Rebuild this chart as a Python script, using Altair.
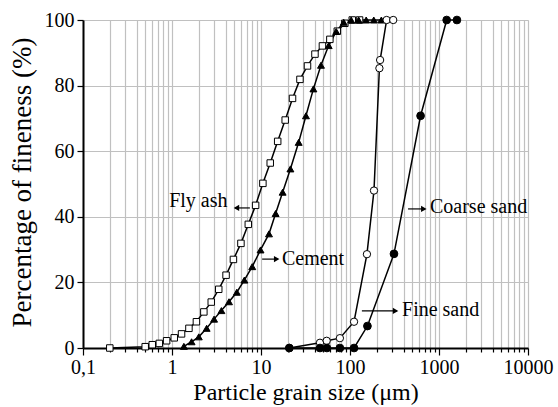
import altair as alt
import pandas as pd

# ---- data ----
fly_x = [0.2, 0.5, 0.6, 0.72, 0.87, 1.06, 1.28, 1.55, 1.88, 2.28, 2.76, 3.35, 4.05, 4.9, 5.95,
         7.2, 8.7, 10.5, 12.7, 15.4, 18.7, 22.6, 27.4, 33.3, 40.4, 49, 59.4, 72, 87.5, 106, 128]
fly_y = [0, 0.4, 1.0, 1.4, 2.2, 3.1, 4.3, 6.0, 8.0, 11.0, 14.0, 17.9, 22.2, 27.0, 31.9,
         37.7, 43.5, 50.2, 56.4, 63.0, 69.5, 76.1, 81.9, 86.0, 89.6, 92.1, 94.1, 96.6, 99.0, 100, 100]

cem_x = [1.36, 1.66, 2.0, 2.45, 2.97, 3.59, 4.37, 5.35, 6.5, 7.97, 9.88, 12.3, 14.6, 17.5, 21.4,
         26.5, 32, 38.8, 47.2, 57.6, 70, 85, 103, 125, 152, 185, 225]
cem_y = [0.5, 1.9, 3.4, 6.0, 8.8, 11.4, 14.1, 17.0, 20.7, 24.8, 29.9, 34.8, 41.0, 47.5, 54.6,
         62.7, 70.8, 79.0, 86.2, 92.2, 96.5, 99.3, 100, 100, 100, 100, 100]

fine_x = [20.8, 46, 54.7, 77, 111, 155, 186, 214, 218, 258, 306]
fine_y = [0, 1.6, 2.2, 3.0, 8.0, 28.6, 48.0, 85.3, 87.8, 100, 100]

coarse_x = [20.8, 46, 55, 77, 111, 157, 312, 621, 1220, 1590]
coarse_y = [0, 0, 0, 0, 0, 6.7, 28.7, 70.8, 100, 100]

series_names = ["Fly ash", "Cement", "Fine sand", "Coarse sand"]
series_shapes = ["square", "triangle-up", "circle", "circle"]
series_fills = ["white", "black", "white", "black"]
series_sizes = [42, 60, 55, 55]

# annotations
ann_text = ["Fly ash", "Cement", "Coarse sand", "Fine sand"]
ann_tx = [4.2, 17.2, 792, 384]
ann_ty = [43.0, 25.3, 41.1, 9.8]
ann_align = ["right", "left", "left", "left"]
arr_x1 = [5.1, 10.3, 449, 136]
arr_x2 = [7.5, 15.5, 697, 337]
arr_y = [42.7, 27.1, 42.4, 11.3]
arr_head = [5.3, 15.0, 675, 325]
arr_dir = ["triangle-left", "triangle-right", "triangle-right", "triangle-right"]

# ---- build tables ----
frames = []
for name, xs, ys in zip(series_names, [fly_x, cem_x, fine_x, coarse_x], [fly_y, cem_y, fine_y, coarse_y]):
    frames.append(pd.DataFrame({"x": xs, "y": ys, "series": name}))
data = pd.concat(frames, ignore_index=True)

ann = pd.DataFrame({"x": ann_tx, "y": ann_ty, "text": ann_text, "align": ann_align})
arr = pd.DataFrame({"x": arr_x1, "x2": arr_x2, "y": arr_y, "hx": arr_head, "dir": arr_dir})

FONT = "Times New Roman, Liberation Serif, serif"
x_ticks = [round(d * k, 6) for d in [0.1, 1, 10, 100, 1000] for k in range(1, 10)] + [10000]
major_test = "abs(log(datum.value)/LN10 - round(log(datum.value)/LN10)) < 1e-6"

xscale = alt.Scale(type="log", domain=[0.1, 10000], nice=False)
yscale = alt.Scale(domain=[0, 100], nice=False)

xaxis = alt.Axis(
    values=x_ticks,
    title="Particle grain size (μm)",
    labelExpr=f"({major_test}) ? (datum.value < 1 ? '0,1' : format(datum.value, 'd')) : ''",
    labelOverlap=False, labelBound=False, labelFlush=False,
    labelFont=FONT, labelFontSize=20, labelColor="black", labelPadding=2,
    tickSize={"condition": {"test": major_test, "value": 7}, "value": 4},
    tickColor="black", tickWidth=1.2,
    domainColor="black", domainWidth=2,
    grid=True, gridColor="#c0c0c0", gridWidth=1.2,
    titleFont=FONT, titleFontSize=24, titleFontWeight="normal", titleColor="black",
    titleY=44, titleBaseline="middle",
)
yaxis = alt.Axis(
    values=list(range(0, 101, 10)),
    title="Percentage of fineness (%)",
    labelExpr="datum.value % 20 == 0 ? datum.value : ''",
    labelFont=FONT, labelFontSize=20, labelColor="black", labelPadding=3,
    tickSize={"condition": {"test": "datum.value % 20 == 0", "value": 6}, "value": 3},
    tickColor="black", tickWidth=1.2,
    domainColor="black", domainWidth=2,
    grid=True, gridColor="#c0c0c0", gridWidth=1.2,
    gridOpacity={"condition": {"test": "datum.value % 20 == 0", "value": 1}, "value": 0},
    titleFont=FONT, titleFontSize=27, titleFontWeight="normal", titleColor="black",
    titleAngle=-90, titleX=-61, titleY=162, titleAlign="center", titleBaseline="middle",
)

base = alt.Chart(data).encode(
    x=alt.X("x:Q", scale=xscale, axis=xaxis),
    y=alt.Y("y:Q", scale=yscale, axis=yaxis),
)

lines = base.mark_line(color="black", strokeWidth=1.5).encode(detail="series:N")
points = base.mark_point(filled=True, stroke="black", strokeWidth=1, opacity=1).encode(
    shape=alt.Shape("series:N", scale=alt.Scale(domain=series_names, range=series_shapes), legend=None),
    fill=alt.Fill("series:N", scale=alt.Scale(domain=series_names, range=series_fills), legend=None),
    size=alt.Size("series:N", scale=alt.Scale(domain=series_names, range=series_sizes), legend=None),
)

arr_lines = alt.Chart(arr).mark_rule(color="black", strokeWidth=1.2).encode(
    x=alt.X("x:Q", scale=xscale), x2="x2:Q", y=alt.Y("y:Q", scale=yscale)
)
arr_heads = alt.Chart(arr).mark_point(filled=True, color="black", opacity=1, size=40).encode(
    x=alt.X("hx:Q", scale=xscale), y=alt.Y("y:Q", scale=yscale),
    shape=alt.Shape("dir:N", scale=None, legend=None),
)

texts = []
for al in ["left", "right"]:
    texts.append(
        alt.Chart(ann[ann["align"] == al]).mark_text(
            font=FONT, fontSize=20, color="black", align=al, baseline="alphabetic"
        ).encode(x=alt.X("x:Q", scale=xscale), y=alt.Y("y:Q", scale=yscale), text="text:N")
    )

chart = alt.layer(lines, points, arr_lines, arr_heads, *texts).properties(
    width=445, height=328,
    autosize=alt.AutoSizeParams(type="none"),
    padding={"left": 83, "top": 20, "right": 30, "bottom": 59},
).configure_view(stroke="black", strokeWidth=2).configure(background="white")

chart.save("out.html", embed_options={"renderer": "svg", "actions": False})
